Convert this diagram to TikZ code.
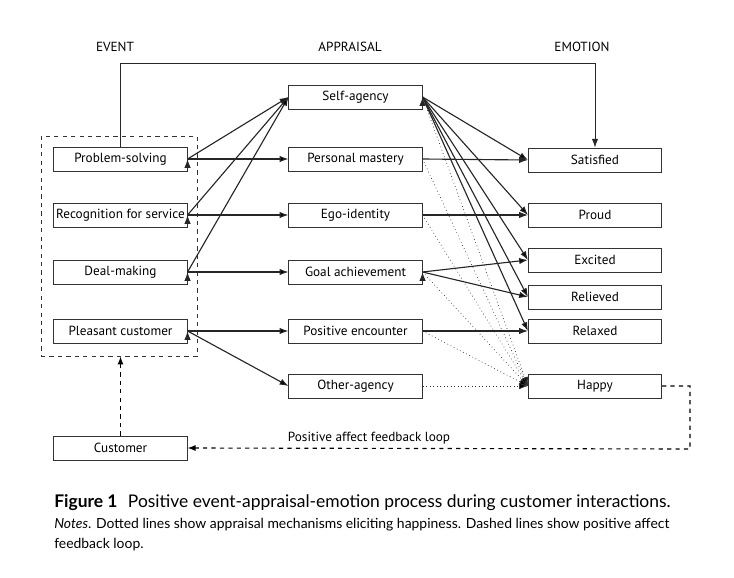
\documentclass[tikz,border=0pt]{standalone}
\usepackage{fontspec}
\setmainfont{PT Sans}
\newfontfamily\capfont{Lato}
\usepackage{tikz}
\usetikzlibrary{arrows.meta,positioning}
\tikzset{
  box/.style={ draw=black!80, line width=0.6pt, minimum width=3.33cm, minimum height=0.6cm, inner sep=0pt, font=\fontsize{9.4}{11}\selectfont }
}
\tikzset{
  arr/.style={ line width=0.8pt, draw=black!85, -{Latex[length=2.2mm,width=1.6mm]} }
}
\tikzset{
  dotarr/.style={ line width=0.5pt, draw=black!80, dotted, -{Latex[length=2.2mm,width=1.6mm,fill=black]} }
}
\tikzset{
  dasharr/.style={ line width=0.8pt, draw=black, dashed, -{Latex[length=2mm,width=1.5mm]} }
}
\tikzset{
  head/.style={ font=\fontsize{9.4}{11}\selectfont }
}

\begin{document}
\begin{tikzpicture}[x=0.025cm, y=-0.025cm]
      \useasboundingbox (0,0) rectangle (734,577);
      % headers
      \node[head] (hev) at (115, 47) {EVENT};
      \node[head] (hap2) at (350, 47) {APPRAISAL};
      \node[head] (hem) at (582, 47) {EMOTION};
      % events
      \node[box] (ps) at (120.5, 159) {Problem-solving};
      \node[box] (rec) at (120.5, 215) {Recognition for service};
      \node[box] (deal) at (120.5, 272) {Deal-making};
      \node[box] (plc) at (120.5, 331) {Pleasant customer};
      \node[draw=black!80, line width=0.6pt, dashed, minimum width=3.9cm, minimum height=5.5cm] (evt) at (119, 246) {};
      \node[box] (cust) at (120.5, 448) {Customer};
      % appraisals
      \node[box] (self) at (355.5, 97) {Self-agency};
      \node[box] (pm) at (355.5, 159) {Personal mastery};
      \node[box] (ego) at (355.5, 215) {Ego-identity};
      \node[box] (goal) at (355.5, 272) {Goal achievement};
      \node[box] (pos) at (355.5, 331) {Positive encounter};
      \node[box] (oth) at (355.5, 386) {Other-agency};
      % emotions
      \node[box] (sat) at (595, 160) {Satisfied};
      \node[box] (proud) at (595, 215) {Proud};
      \node[box] (exc) at (595, 260) {Excited};
      \node[box] (rel) at (595, 297) {Relieved};
      \node[box] (rlx) at (595, 331) {Relaxed};
      \node[box] (hap) at (595, 386) {Happy};
      % event -> appraisal
      \draw[arr] (ps.east) edge (self.west) edge (pm.west);
      \draw[arr] (rec.east) edge (self.west) edge (ego.west);
      \draw[arr] (deal.east) edge (self.west) edge (goal.west);
      \draw[arr] (plc.east) edge (pos.west) edge (oth.west);
      % appraisal -> emotion
      \draw[arr] (self.east) edge (sat.west) edge (proud.west) edge (exc.west) edge (rel.west) edge (rlx.west);
      \draw[arr] (pm.east) -- (sat.west);
      \draw[arr] (ego.east) -- (proud.west);
      \draw[arr] (goal.east) edge (exc.west) edge (rel.west);
      \draw[arr] (pos.east) -- (rlx.west);
      % happiness
      \foreach \src in {self, pm, ego, goal, pos, oth}
        \draw[dotarr] (\src.east) -- (hap.west);
      % direct path and feedback loop
      \draw[arr, line width=0.6pt] (ps.north) |- (595, 63) -- (sat.north);
      \draw[dasharr] (hap.east) -| (690, 449) -- (cust.east);
      \draw[dasharr] (cust.north) -- (evt.south -| cust.north);
      \node[head] (fbl) at (369, 438) {Positive affect feedback loop};
      % caption
      \node[anchor=base west, inner sep=0pt, font=\capfont\fontsize{12.4}{14}\selectfont] (cap) at (54, 507) {\textbf{Figure 1}\hspace{0.6em}Positive event-appraisal-emotion process during customer interactions.};
      \node[anchor=base west, inner sep=0pt, font=\capfont\fontsize{9.9}{12}\selectfont] (notes) at (54, 528) {\textit{Notes}. Dotted lines show appraisal mechanisms eliciting happiness. Dashed lines show positive affect};
      \node[anchor=base west, inner sep=0pt, font=\capfont\fontsize{9.9}{12}\selectfont] (notes2) at (54, 548) {feedback loop.};
    \end{tikzpicture}
\end{document}
